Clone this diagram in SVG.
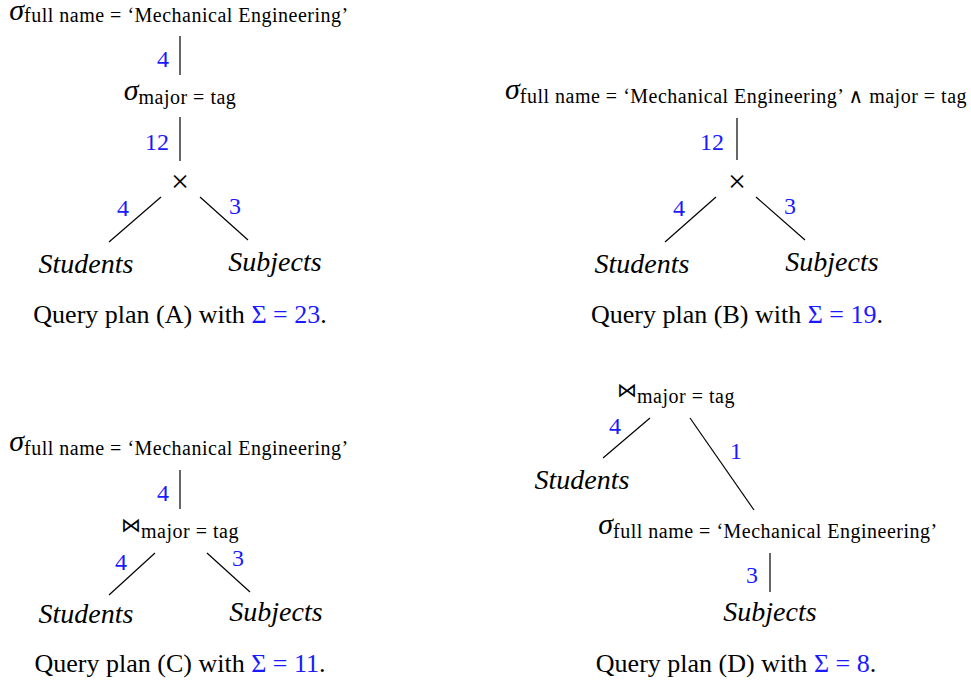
<svg xmlns="http://www.w3.org/2000/svg" width="971" height="689" viewBox="0 0 971 689">
  <style>
    text { font-family: "Liberation Serif", "DejaVu Serif", serif; fill: #000; }
    .op { font-size: 30px; font-style: italic; }
    .sub { font-size: 20px; letter-spacing: 0.5px; }
    .rel { font-size: 28px; font-style: italic; }
    .cap { font-size: 26px; }
    .card { font-size: 24px; fill: #1a1aff; }
    .blue { fill: #1a1aff; }
    .cross { font-size: 32px; }
    .join { font-size: 20px; }
    line { stroke: #000; stroke-width: 1.2; }
  </style>

  <!-- Plan A -->
  <g id="planA">
    <g id="a-sel-name"><text x="179" y="20" text-anchor="middle"><tspan class="op">σ</tspan><tspan class="sub" dy="2">full name = ‘Mechanical Engineering’</tspan></text></g>
    <g id="a-sel-major"><text x="180" y="100" text-anchor="middle"><tspan class="op">σ</tspan><tspan class="sub" dy="4">major = tag</tspan></text></g>
    <g id="a-cross"><text x="180" y="192" text-anchor="middle" class="cross">×</text></g>
    <g id="a-students"><text x="86" y="273" text-anchor="middle" class="rel">Students</text></g>
    <g id="a-subjects"><text x="275" y="271" text-anchor="middle" class="rel">Subjects</text></g>
    <g id="a-edges">
      <line x1="180" y1="36" x2="180" y2="75"/>
      <line x1="180" y1="117" x2="180" y2="161"/>
      <line x1="161" y1="197" x2="109" y2="242"/>
      <line x1="200" y1="197" x2="248" y2="240"/>
      <text x="157" y="67" class="card">4</text>
      <text x="145" y="150" class="card">12</text>
      <text x="117" y="216" class="card">4</text>
      <text x="229" y="214" class="card">3</text>
    </g>
    <text x="180" y="323" text-anchor="middle" class="cap">Query plan (A) with <tspan class="blue">Σ = 23</tspan>.</text>
  </g>

  <!-- Plan B -->
  <g id="planB">
    <g id="b-sel"><text x="736" y="99" text-anchor="middle"><tspan class="op">σ</tspan><tspan class="sub" dy="4">full name = ‘Mechanical Engineering’ ∧ major = tag</tspan></text></g>
    <g id="b-cross"><text x="737" y="192" text-anchor="middle" class="cross">×</text></g>
    <g id="b-students"><text x="642" y="273" text-anchor="middle" class="rel">Students</text></g>
    <g id="b-subjects"><text x="832" y="271" text-anchor="middle" class="rel">Subjects</text></g>
    <g id="b-edges">
      <line x1="737" y1="118" x2="737" y2="160"/>
      <line x1="716" y1="197" x2="665" y2="242"/>
      <line x1="756" y1="197" x2="805" y2="240"/>
      <text x="700" y="150" class="card">12</text>
      <text x="673" y="216" class="card">4</text>
      <text x="784" y="214" class="card">3</text>
    </g>
    <text x="737" y="323" text-anchor="middle" class="cap">Query plan (B) with <tspan class="blue">Σ = 19</tspan>.</text>
  </g>

  <!-- Plan C -->
  <g id="planC">
    <g id="c-sel"><text x="179" y="451" text-anchor="middle"><tspan class="op">σ</tspan><tspan class="sub" dy="4">full name = ‘Mechanical Engineering’</tspan></text></g>
    <g id="c-join"><text x="180" y="532" text-anchor="middle"><tspan class="join">⋈</tspan><tspan class="sub" dy="6">major = tag</tspan></text></g>
    <g id="c-students"><text x="86" y="623" text-anchor="middle" class="rel">Students</text></g>
    <g id="c-subjects"><text x="276" y="621" text-anchor="middle" class="rel">Subjects</text></g>
    <g id="c-edges">
      <line x1="180" y1="470" x2="180" y2="509"/>
      <line x1="155" y1="553" x2="109" y2="595"/>
      <line x1="207" y1="553" x2="250" y2="592"/>
      <text x="157" y="501" class="card">4</text>
      <text x="115" y="570" class="card">4</text>
      <text x="232" y="566" class="card">3</text>
    </g>
    <text x="180" y="672" text-anchor="middle" class="cap">Query plan (C) with <tspan class="blue">Σ = 11</tspan>.</text>
  </g>

  <!-- Plan D -->
  <g id="planD">
    <g id="d-join"><text x="676" y="397" text-anchor="middle"><tspan class="join">⋈</tspan><tspan class="sub" dy="6">major = tag</tspan></text></g>
    <g id="d-students"><text x="582" y="489" text-anchor="middle" class="rel">Students</text></g>
    <g id="d-sel"><text x="768" y="534" text-anchor="middle"><tspan class="op">σ</tspan><tspan class="sub" dy="4">full name = ‘Mechanical Engineering’</tspan></text></g>
    <g id="d-subjects"><text x="770" y="621" text-anchor="middle" class="rel">Subjects</text></g>
    <g id="d-edges">
      <line x1="650" y1="418" x2="603" y2="458"/>
      <line x1="690" y1="418" x2="754" y2="510"/>
      <line x1="770" y1="553" x2="770" y2="592"/>
      <text x="609" y="434" class="card">4</text>
      <text x="730" y="459" class="card">1</text>
      <text x="746" y="583" class="card">3</text>
    </g>
    <text x="736" y="672" text-anchor="middle" class="cap">Query plan (D) with <tspan class="blue">Σ = 8</tspan>.</text>
  </g>
</svg>
